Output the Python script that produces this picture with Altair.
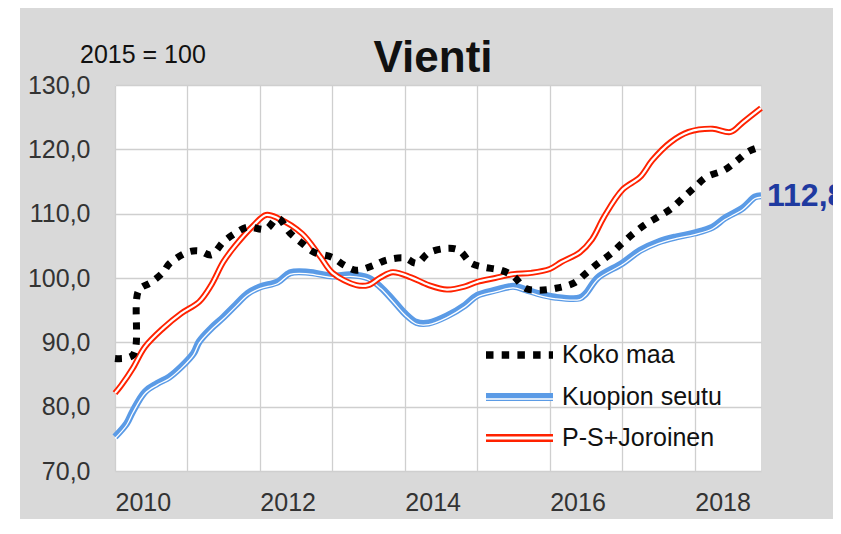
import altair as alt
import pandas as pd

# ---------------- data (month index 0 = Jan 2010) ----------------
koko_m = [0, 3, 4, 6, 8, 9, 12, 14, 16, 18, 20, 22, 25, 27, 29, 31, 33, 36, 38, 40, 43, 45, 48, 50,
          52, 55, 57, 59, 61, 64, 66, 68, 70, 73, 76, 78, 80, 82, 84, 86, 88, 90, 92, 94, 96, 98,
          101, 103, 105, 107]
koko_v = [87.5, 88.0, 98.1, 99.3, 100.9, 102.2, 104.0, 104.2, 103.6, 105.6, 107.0, 107.9, 107.6,
          109.3, 107.0, 105.4, 104.0, 103.2, 102.0, 101.2, 102.0, 102.8, 103.1, 102.3, 103.9, 104.6,
          104.3, 102.3, 101.7, 101.2, 100.3, 98.4, 98.1, 98.4, 99.2, 100.7, 102.3, 103.7, 105.4,
          107.0, 108.4, 109.5, 110.7, 112.4, 114.1, 115.7, 116.8, 118.2, 119.7, 120.4]

kuopio_m = [0, 2, 3, 5, 7, 9, 11, 13, 14, 16, 18, 20, 22, 24, 27, 29, 32, 36, 39, 42, 44, 46, 48,
            50, 52, 55, 58, 60, 63, 66, 68, 70, 73, 77, 78, 80, 84, 87, 90, 93, 96, 99, 101, 104,
            106, 107]
kuopio_v = [75.3, 77.4, 79.3, 82.3, 83.6, 84.6, 86.2, 88.3, 90.1, 92.2, 93.9, 95.8, 97.6, 98.6,
            99.4, 100.8, 100.9, 100.3, 100.5, 100.0, 98.6, 96.6, 94.5, 93.1, 93.0, 94.1, 95.8,
            97.3, 98.1, 98.7, 98.2, 97.6, 97.0, 96.9, 97.6, 100.1, 102.3, 104.3, 105.6, 106.4,
            107.0, 107.9, 109.3, 110.9, 112.6, 112.8]

ps_m = [0, 1, 3, 5, 8, 11, 14, 16, 18, 20, 23, 25, 27, 31, 34, 36, 40, 42, 44, 46, 49, 52, 55, 58,
        60, 63, 66, 69, 72, 74, 77, 79, 81, 84, 87, 89, 92, 95, 99, 102, 104, 107]
ps_v = [82.1, 83.3, 86.0, 89.3, 92.2, 94.5, 96.3, 98.9, 102.5, 105.1, 108.2, 109.8, 109.3, 106.9,
        103.3, 100.8, 98.9, 98.9, 100.1, 100.9, 100.1, 98.9, 98.2, 98.7, 99.4, 100.0, 100.6, 100.8,
        101.4, 102.5, 104.0, 106.0, 109.5, 113.7, 115.7, 118.3, 121.1, 122.7, 123.2, 122.7, 124.2,
        126.4]

series_names = ["Koko maa", "Kuopion seutu", "P-S+Joroinen"]
y_ticks = [70, 80, 90, 100, 110, 120, 130]
x_years = list(range(2010, 2019))
title_text = "Vienti"
base_text = "2015 = 100"


def month_date(m):
    return f"{2010 + m // 12}-{m % 12 + 1:02d}-01T00:00:00"


rows = []
for name, ms, vs in zip(series_names, [koko_m, kuopio_m, ps_m], [koko_v, kuopio_v, ps_v]):
    for m, v in zip(ms, vs):
        rows.append({"date": month_date(m), "value": v, "series": name})
df = pd.DataFrame(rows)

last_blue = pd.DataFrame([{"date": month_date(kuopio_m[-1]), "value": kuopio_v[-1],
                           "label": f"{kuopio_v[-1]:.1f}".replace(".", ",")}])

FONT = "Liberation Sans"
W, H = 646, 386
PAD = {"left": 107, "top": 77, "right": 72, "bottom": 48}

BLUE = "#5b9be6"
RED = "#ff2200"
BLACK = "#000000"

x_enc = alt.X(
    "date:T",
    scale=alt.Scale(domain=[alt.DateTime(year=2010, month=1, date=1),
                            alt.DateTime(year=2018, month=12, date=1)]),
    axis=alt.Axis(
        values=[alt.DateTime(year=y, month=1, date=1) for y in x_years],
        labelExpr="year(datum.value) % 2 == 0 ? timeFormat(datum.value, '%Y') : ''",
        labelAlign="left", labelPadding=19, labelFontSize=25, labelFont=FONT,
        labelColor="#333333", labelFlush=False, labelOverlap=False,
        ticks=False, domain=False, grid=True, gridColor="#cfcfcf", gridWidth=1.3, title=None,
    ),
)
y_enc = alt.Y(
    "value:Q",
    scale=alt.Scale(domain=[70, 130], nice=False, zero=False),
    axis=alt.Axis(
        values=y_ticks,
        labelExpr="replace(format(datum.value, '.1f'), '.', ',')",
        labelPadding=25, labelFontSize=25, labelFont=FONT, labelColor="#333333",
        ticks=False, domain=False, grid=True, gridColor="#cfcfcf", gridWidth=1.3, title=None,
    ),
)

base = alt.Chart(df)


def series_line(name, **kw):
    return base.transform_filter(alt.datum.series == name).mark_line(
        interpolate="catmull-rom", **kw).encode(x=x_enc, y=y_enc)


blue_outer = series_line("Kuopion seutu", color=BLUE, strokeWidth=7)
blue_inner = series_line("Kuopion seutu", color="white", strokeWidth=1.3, yOffset=1.6)
red_outer = series_line("P-S+Joroinen", color=RED, strokeWidth=6)
red_inner = series_line("P-S+Joroinen", color="white", strokeWidth=2.2)
black_dot = series_line("Koko maa", color=BLACK, strokeWidth=7, strokeDash=[7, 8], strokeCap="butt")

end_label = alt.Chart(last_blue).mark_text(
    align="left", baseline="middle", dx=6, fontSize=32, fontWeight="bold", font=FONT,
    color="#1f3aa0").encode(x=x_enc, y=y_enc, text="label:N")

one = pd.DataFrame({"t": [0]})

# white strip to the left of the grey chart background
strip = alt.Chart(one).mark_rect(color="white").encode(
    x=alt.value(-PAD["left"]), x2=alt.value(-95), y=alt.value(-PAD["top"]),
    y2=alt.value(H + PAD["bottom"]))

title = alt.Chart(one).mark_text(
    text=title_text, fontSize=44, fontWeight="bold", font=FONT, color="#111111",
    align="center", baseline="alphabetic").encode(x=alt.value(318), y=alt.value(-13))
subtitle = alt.Chart(one).mark_text(
    text=base_text, fontSize=25, font=FONT, color="#111111",
    align="left", baseline="alphabetic").encode(x=alt.value(-35), y=alt.value(-22))

# legend (inside plot area)
lx1, lx2, ltx = 371, 438, 447
ly = [270, 312, 353]


def rule(color, width, yy, **kw):
    return alt.Chart(one).mark_rule(color=color, strokeWidth=width, strokeCap="butt", **kw).encode(
        x=alt.value(lx1), x2=alt.value(lx2), y=alt.value(yy))


def legend_text(txt, yy):
    return alt.Chart(one).mark_text(
        text=txt, align="left", baseline="middle", fontSize=25, font=FONT, color="#111111"
    ).encode(x=alt.value(ltx), y=alt.value(yy))


leg_black = rule(BLACK, 7.5, ly[0], strokeDash=[7.5, 8.2])
leg_blue = rule(BLUE, 8, ly[1])
leg_blue_w = rule("white", 1.5, ly[1] + 2)
leg_red = rule(RED, 8, ly[2])
leg_red_w = rule("white", 3, ly[2])
leg_texts = [legend_text(n, yy) for n, yy in zip(series_names, ly)]

chart = alt.layer(
    strip, blue_outer, blue_inner, red_outer, red_inner, black_dot, end_label,
    title, subtitle, leg_black, leg_blue, leg_blue_w, leg_red, leg_red_w, *leg_texts,
).properties(
    width=W, height=H, padding=PAD, autosize="none", background="#d9d9d9",
).configure_view(fill="white", strokeWidth=0)

chart.save("out.html", embed_options={"renderer": "svg", "actions": False})
